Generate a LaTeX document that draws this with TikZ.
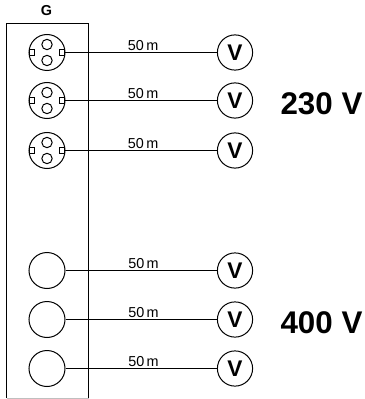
\documentclass[tikz,border=0pt]{standalone}
\usepackage{fontspec}
\setmainfont{Liberation Sans}
\tikzset{
	socket/.style={draw, circle, minimum size=27pt, inner sep=0pt},
	hole/.style={draw, circle, minimum size=7.8pt, inner sep=0pt},
	pin/.style={draw, fill=white, rectangle, minimum width=3.6pt, minimum height=4.5pt, inner sep=0pt},
	meter/.style={draw, circle, minimum size=26.4pt, inner sep=0pt, font=\fontsize{17}{18}\selectfont\bfseries},
	len/.style={above, inner sep=0pt, yshift=1pt, font=\fontsize{10.8}{12}\selectfont},
	volt/.style={font=\fontsize{23.5}{25}\selectfont\bfseries}
}
\begin{document}
\begin{tikzpicture}[x=0.75pt, y=-0.75pt, line width=0.75pt]
	\useasboundingbox (0,0) rectangle (364,399);
	\draw (6.5,398) -- (6.5,23.5) -- (88.5,23.5) -- (88.5,398);
	\draw[black!25] (6.5,398) -- (88.5,398);
	\node[font=\fontsize{10.8}{12}\selectfont\bfseries] (g) at (46.5,10.5) {G};
	% sockets with pins
	\foreach \n/\y in {1/52.5,2/100.5,3/150.5} {
		\node[socket] (s\n) at (47,\y) {};
		\node[hole] (h\n a) at (47,\y-8) {};
		\node[hole] (h\n b) at (47,\y+8) {};
		\node[pin] (l\n) at (32.3,\y) {};
		\node[pin] (r\n) at (62,\y) {};
		\node[meter] (v\n) at (235,\y) {V};
		\draw (r\n) -- node[len, pos=0.515] {50\,m} (v\n);
	}
	% plain sockets
	\foreach \n/\y in {4/270.5,5/319.5,6/368.5} {
		\node[socket] (s\n) at (47,\y) {};
		\node[meter] (v\n) at (235,\y) {V};
		\draw (s\n) -- node[len, pos=0.515] {50\,m} (v\n);
	}
	\node[volt] (a) at (321.5,104) {230 V};
	\node[volt] (b) at (321.5,323) {400 V};
\end{tikzpicture}
\end{document}
